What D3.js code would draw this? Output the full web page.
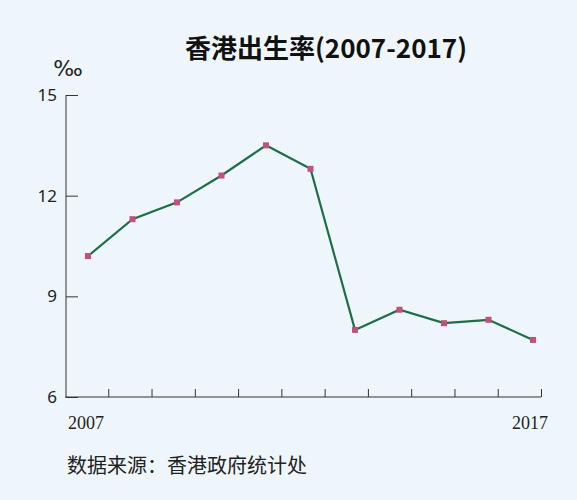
<!DOCTYPE html><html><head><meta charset="utf-8"><script src="https://cdn.jsdelivr.net/npm/d3@7"></script>
<style>body{margin:0;background:#eff6fb}</style></head><body><script>
const years=[2007,2008,2009,2010,2011,2012,2013,2014,2015,2016,2017];
const rates=[10.2,11.3,11.8,12.6,13.5,12.8,8.0,8.6,8.2,8.3,7.7];
const yTicks=[6,9,12,15];
const svg=d3.select("body").append("svg").attr("width",577).attr("height",500);
svg.append("rect").attr("width",577).attr("height",500).attr("fill","#eff6fb");
const x=d3.scalePoint().domain(years).range([88,533]);
const y=d3.scaleLinear().domain([6,15]).range([397,95]);
svg.append("text").attr("x",326).attr("y",58).attr("text-anchor","middle").attr("font-family","Noto Sans CJK SC").attr("font-weight","bold").attr("font-size",26).attr("fill","#111").text("香港出生率(2007-2017)");
svg.append("text").attr("x",68).attr("y",76).attr("text-anchor","middle").attr("font-family","DejaVu Sans").attr("font-size",22).attr("fill","#222").text("‰");
const ya=svg.append("g").attr("transform","translate(66,0)").call(d3.axisRight(y).tickValues(yTicks).tickSize(12).tickFormat(""));
ya.select(".domain").attr("d","M0,95V397").attr("stroke","#333");
ya.selectAll("line").attr("stroke","#333");
svg.selectAll(".yl").data(yTicks).join("text").attr("x",57).attr("y",d=>y(d)+6).attr("text-anchor","end").attr("font-family","Noto Sans").attr("font-size",17).attr("fill","#222").text(d=>d);
const xa=svg.append("g").attr("transform","translate(0,397)").call(d3.axisTop(d3.scaleLinear().domain([0,11]).range([65,541])).tickValues(d3.range(1,12)).tickSize(8).tickFormat("").tickSizeOuter(0));
xa.select(".domain").attr("d","M65,0H541").attr("stroke","#333");
xa.selectAll("line").attr("stroke","#333");
[2007,2017].forEach(v=>svg.append("text").attr("x",x(v)+(v==2007?-2:-3)).attr("y",429).attr("text-anchor","middle").attr("font-family","Liberation Serif").attr("font-size",18).attr("fill","#222").text(v));
svg.append("path").datum(years).attr("fill","none").attr("stroke","#1d6e45").attr("stroke-width",2.2).attr("d",d3.line().x(d=>x(d)).y((d,i)=>y(rates[i])));
svg.selectAll(".m").data(years).join("rect").attr("x",d=>x(d)-3).attr("y",(d,i)=>y(rates[i])-3).attr("width",6).attr("height",6).attr("fill","#c24f7c");
svg.append("text").attr("x",67).attr("y",473).attr("font-family","Noto Sans CJK SC").attr("font-size",20).attr("fill","#222").text("数据来源：香港政府统计处");
</script></body></html>
